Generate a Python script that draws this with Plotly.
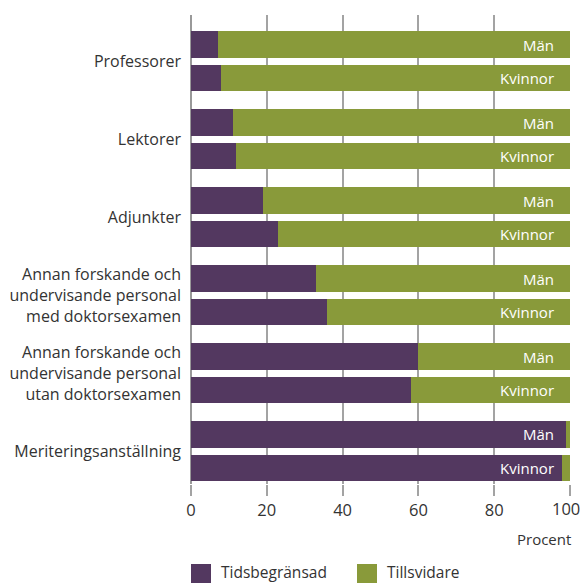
import plotly.graph_objects as go

categories = [
    "Professorer",
    "Lektorer",
    "Adjunkter",
    "Annan forskande och<br>undervisande personal<br>med doktorsexamen",
    "Annan forskande och<br>undervisande personal<br>utan doktorsexamen",
    "Meriteringsanställning",
]
man_tidsbegransad = [7, 11, 19, 33, 60, 99]
kvinnor_tidsbegransad = [8, 12, 23, 36, 58, 98]
man_tillsvidare = [100 - v for v in man_tidsbegransad]
kvinnor_tillsvidare = [100 - v for v in kvinnor_tidsbegransad]
x_ticks = [0, 20, 40, 60, 80, 100]
x_ticktext = ["0", "20", "40", "60", "80", "100"]
series_names = ["Tidsbegränsad", "Tillsvidare"]
bar_labels = ["Män", "Kvinnor"]

PURPLE = "#533860"
GREEN = "#899a3a"
COLORS = [PURPLE, GREEN]
FONT = "Open Sans"
TXT = "#333333"
TICK_SIZE = 16.5

offset = 0.215
idx = list(range(len(categories)))
y_man = [i - offset for i in idx]
y_kv = [i + offset for i in idx]
bw = 0.342

fig = go.Figure()
for ys, tids, tills in [(y_man, man_tidsbegransad, man_tillsvidare),
                        (y_kv, kvinnor_tidsbegransad, kvinnor_tillsvidare)]:
    fig.add_trace(go.Bar(y=ys, x=tids, orientation="h", marker_color=PURPLE,
                         marker_line_width=0, width=bw, showlegend=False,
                         name=series_names[0]))
    fig.add_trace(go.Bar(y=ys, x=tills, orientation="h", marker_color=GREEN,
                         marker_line_width=0, width=bw, showlegend=False,
                         name=series_names[1]))

annotations = []
for ys, lab in [(y_man, bar_labels[0]), (y_kv, bar_labels[1])]:
    for y in ys:
        annotations.append(dict(x=100, y=y, xref="x", yref="y", text=lab,
                                xanchor="right", yanchor="middle", xshift=-14,
                                showarrow=False,
                                font=dict(size=15, color="white", family=FONT)))

# last tick label drawn as annotation, nudged left so it stays inside the page
annotations.append(dict(x=x_ticks[-1], y=-0.0533, xref="x", yref="paper",
                        text=x_ticktext[-1], xanchor="center", yanchor="middle",
                        xshift=-4, showarrow=False,
                        font=dict(size=TICK_SIZE, color=TXT)))

annotations.append(dict(text="Procent", xref="paper", yref="paper", x=1.008, y=-0.117,
                        xanchor="right", yanchor="middle", showarrow=False,
                        font=dict(size=15, color=TXT)))

# manual legend (squares + labels) below the chart
shapes = []
leg_x = [0.0, 0.438]
for lx, name, col in zip(leg_x, series_names, COLORS):
    shapes.append(dict(type="rect", xref="paper", yref="paper",
                       x0=lx, x1=lx + 0.0528, y0=-0.2132, y1=-0.1706,
                       fillcolor=col, line_width=0))
    annotations.append(dict(text=name, xref="paper", yref="paper", x=lx + 0.075,
                            y=-0.188, xanchor="left", yanchor="middle", showarrow=False,
                            font=dict(size=15.5, color=TXT)))

fig.update_layout(
    width=583, height=583,
    margin=dict(l=191, r=13, t=15, b=99, autoexpand=False),
    barmode="stack",
    bargap=0,
    plot_bgcolor="white", paper_bgcolor="white",
    font=dict(family=FONT, size=15, color=TXT),
    showlegend=False,
    xaxis=dict(range=[0, 100], tickvals=x_ticks, ticktext=x_ticktext[:-1] + [""],
               showgrid=True, gridcolor="#a3a3a3", gridwidth=1.5, zeroline=True,
               zerolinecolor="#999999", zerolinewidth=2,
               ticks="outside", ticklen=11, tickwidth=1.5, tickcolor="#a3a3a3",
               showline=False, tickfont=dict(size=TICK_SIZE, color=TXT), fixedrange=True,
               automargin=False, ticklabeloverflow="allow"),
    yaxis=dict(range=[5.42, -0.594], tickvals=idx, ticktext=categories, showgrid=False,
               zeroline=False, showline=False, ticks="", ticklabelstandoff=9,
               tickfont=dict(size=16, color=TXT), fixedrange=True, automargin=False),
    annotations=annotations,
    shapes=shapes,
)

fig.write_html(
    "out.html",
    config={"displayModeBar": False},
    post_script="document.body.style.margin='0';document.body.style.overflow='hidden';"
                "document.documentElement.style.overflow='hidden';",
)
